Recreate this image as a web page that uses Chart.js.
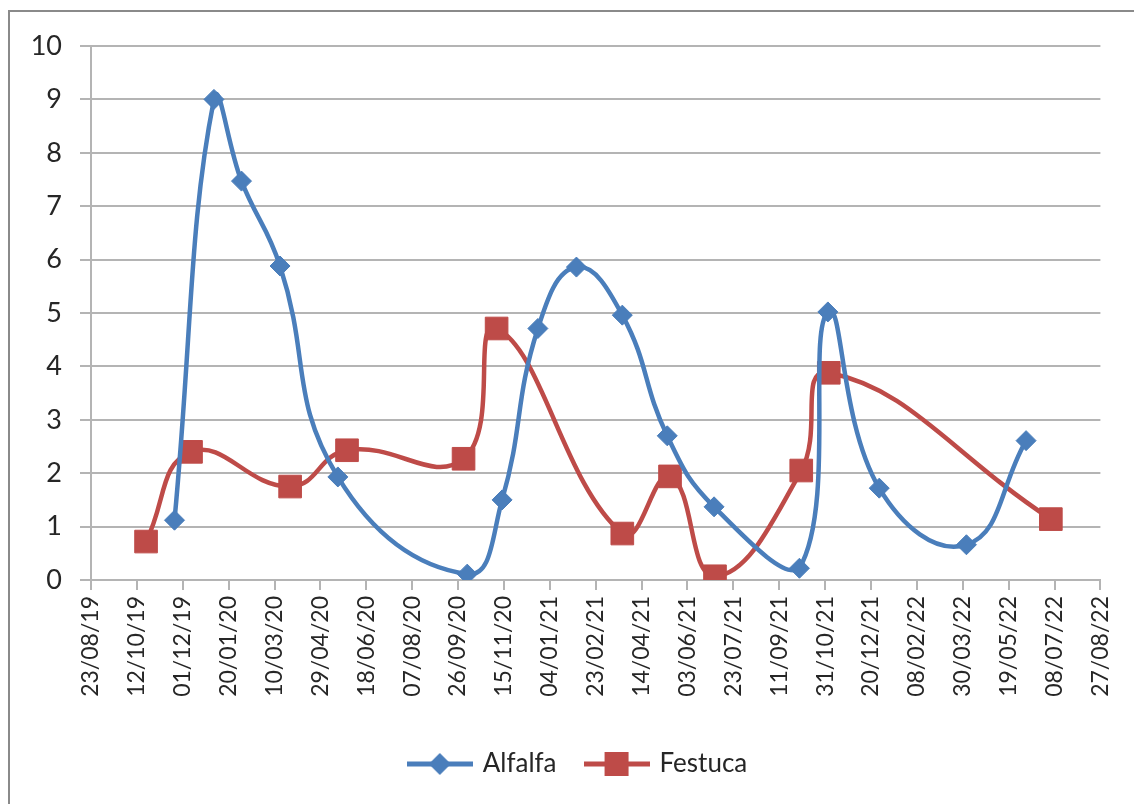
<!DOCTYPE html>
<html>
<head>
<meta charset="utf-8">
<script src="https://cdn.jsdelivr.net/npm/chart.js@4"></script>
<style>
  html, body { margin: 0; padding: 0; background: #fff; overflow: hidden; }
  #wrap { width: 1134px; height: 804px; }
</style>
</head>
<body>
<div id="wrap"><canvas id="chart"></canvas></div>
<script>
(function () {
    "use strict";

    // Data (dd/mm/yy axis, 50 day steps)
    const startDate = "2019-08-23";
    const xTickLabels = [
        "23/08/19", "12/10/19", "01/12/19", "20/01/20", "10/03/20", "29/04/20",
        "18/06/20", "07/08/20", "26/09/20", "15/11/20", "04/01/21", "23/02/21",
        "14/04/21", "03/06/21", "23/07/21", "11/09/21", "31/10/21", "20/12/21",
        "08/02/22", "30/03/22", "19/05/22", "08/07/22", "27/08/22",
    ];
    const yTickLabels = ["0", "1", "2", "3", "4", "5", "6", "7", "8", "9", "10"];

    const alfalfaDates = [
        "2019-11-22", "2020-01-04", "2020-02-03", "2020-03-16", "2020-05-18",
        "2020-10-06", "2020-11-13", "2020-12-22", "2021-02-02", "2021-03-24",
        "2021-05-12", "2021-07-02", "2021-10-03", "2021-11-03", "2021-12-29",
        "2022-04-03", "2022-06-07",
    ];
    const alfalfaValues = [1.12, 9.0, 7.47, 5.88, 1.93, 0.11, 1.5, 4.71, 5.86, 4.96, 2.7, 1.37, 0.22, 5.02, 1.72, 0.66, 2.61];

    const festucaDates = [
        "2019-10-22", "2019-12-10", "2020-03-27", "2020-05-28", "2020-10-02",
        "2020-11-07", "2021-03-24", "2021-05-15", "2021-07-03", "2021-10-05",
        "2021-11-04", "2022-07-04",
    ];
    const festucaValues = [0.72, 2.4, 1.75, 2.43, 2.27, 4.71, 0.87, 1.94, 0.07, 2.05, 3.88, 1.14];

    const blue = "#4A7EBB";
    const red = "#BE4B48";
    const gridColor = "#b4b4b4";
    const textColor = "#262626";

    const dayMs = 86400000;
    const t0 = Date.parse(startDate + "T00:00:00Z");
    const toDay = (d) => Math.round((Date.parse(d + "T00:00:00Z") - t0) / dayMs);
    const toPoints = (dates, values) => dates.map((d, i) => ({ x: toDay(d), y: values[i] }));

    // legend sample: line with the marker in the middle (Excel style)
    function legendSample(color, shape) {
        const c = document.createElement("canvas");
        c.width = 66;
        c.height = 28;
        const g = c.getContext("2d");
        g.strokeStyle = color;
        g.fillStyle = color;
        g.lineWidth = 5;
        g.beginPath();
        g.moveTo(0, 14);
        g.lineTo(66, 14);
        g.stroke();
        g.beginPath();
        if (shape === "diamond") {
            g.moveTo(33, 3);
            g.lineTo(44, 14);
            g.lineTo(33, 25);
            g.lineTo(22, 14);
        } else {
            g.rect(21, 2, 24, 24);
        }
        g.closePath();
        g.fill();
        return c;
    }

    const framePlugin = {
        id: "frame",
        beforeDraw(chart) {
            const ctx = chart.ctx;
            ctx.save();
            ctx.fillStyle = "#fff";
            ctx.fillRect(0, 0, chart.width, chart.height);
            ctx.strokeStyle = "#8a8a8a";
            ctx.lineWidth = 2;
            ctx.strokeRect(9, 11, chart.width + 40, chart.height + 40);
            ctx.restore();
        },
    };

    // the legend sits a little right of the page centre
    const legendShift = {
        id: "legendShift",
        afterLayout(chart) {
            chart.legend.left += 50;
        },
    };

    const ctx = document.getElementById("chart").getContext("2d");
    new Chart(ctx, {
        type: "scatter",
        data: {
            datasets: [
                {
                    label: "Alfalfa",
                    data: toPoints(alfalfaDates, alfalfaValues),
                    showLine: true,
                    tension: 0.45,
                    borderColor: blue,
                    backgroundColor: blue,
                    borderWidth: 4.5,
                    pointStyle: "rectRot",
                    pointRadius: 10,
                    pointBorderWidth: 1,
                    pointBackgroundColor: blue,
                    pointBorderColor: blue,
                },
                {
                    label: "Festuca",
                    data: toPoints(festucaDates, festucaValues),
                    showLine: true,
                    tension: 0.45,
                    borderColor: red,
                    backgroundColor: red,
                    borderWidth: 4.5,
                    pointStyle: "rect",
                    pointRadius: 16,
                    pointBorderWidth: 1,
                    pointBackgroundColor: red,
                    pointBorderColor: red,
                },
            ],
        },
        options: {
            responsive: true,
            maintainAspectRatio: false,
            animation: false,
            layout: {
                padding: { top: 46, right: 27, bottom: 17, left: 0 },
            },
            plugins: {
                tooltip: { enabled: false },
                legend: {
                    position: "bottom",
                    labels: {
                        usePointStyle: true,
                        pointStyleWidth: 60,
                        padding: 30,
                        color: textColor,
                        font: { family: "Lato", size: 26 },
                        generateLabels: (chart) =>
                            chart.data.datasets.map((ds, i) => ({
                                text: ds.label,
                                datasetIndex: i,
                                fontColor: textColor,
                                pointStyle: legendSample(ds.borderColor, i === 0 ? "diamond" : "square"),
                                lineWidth: 0,
                                hidden: false,
                            })),
                    },
                },
            },
            scales: {
                x: {
                    type: "linear",
                    min: 0,
                    max: 1100,
                    afterFit: (scale) => {
                        scale.height = 141;
                    },
                    ticks: {
                        stepSize: 50,
                        autoSkip: false,
                        minRotation: 90,
                        maxRotation: 90,
                        padding: 6,
                        color: textColor,
                        font: { family: "Lato", size: 23 },
                        callback: (value) => xTickLabels[Math.round(value / 50)],
                    },
                    grid: {
                        drawOnChartArea: false,
                        drawTicks: true,
                        tickLength: 10,
                        color: gridColor,
                        lineWidth: 2,
                    },
                    border: { display: true, color: gridColor, width: 2 },
                },
                y: {
                    min: 0,
                    max: 10,
                    afterFit: (scale) => {
                        scale.width = 91;
                    },
                    ticks: {
                        stepSize: 1,
                        padding: 18,
                        color: textColor,
                        font: { family: "Lato", size: 27 },
                        callback: (value) => yTickLabels[value],
                    },
                    grid: {
                        color: gridColor,
                        lineWidth: 2,
                        tickLength: 11,
                    },
                    border: { display: true, color: gridColor, width: 2 },
                },
            },
        },
        plugins: [framePlugin, legendShift],
    });
})();
</script>
</body>
</html>
